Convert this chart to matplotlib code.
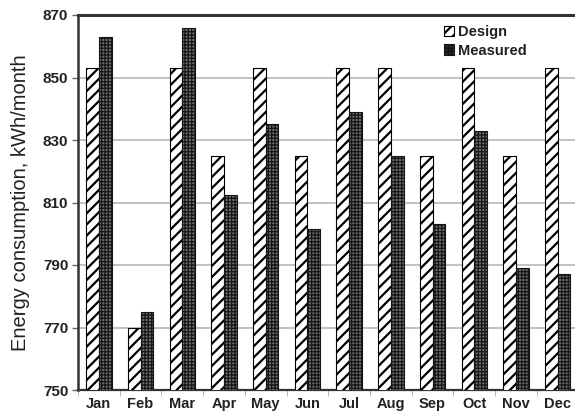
import matplotlib
matplotlib.use("Agg")
import matplotlib.pyplot as plt
import numpy as np

months = ["Jan", "Feb", "Mar", "Apr", "May", "Jun",
          "Jul", "Aug", "Sep", "Oct", "Nov", "Dec"]
design = [853, 770, 853, 825, 853, 825, 853, 853, 825, 853, 825, 853]
measured = [863, 775, 866, 812.5, 835, 801.5, 839, 825, 803, 833, 789, 787]
y_ticks = [750, 770, 790, 810, 830, 850, 870]

plt.rcParams["font.family"] = ["Liberation Sans", "DejaVu Sans"]
plt.rcParams["hatch.linewidth"] = 1.6

fig = plt.figure(figsize=(5.75, 4.13), dpi=100)
ax = fig.add_axes([78 / 575, 1 - 390 / 413, 500.5 / 575, 375 / 413])

x = np.arange(len(months))
w = 0.305
ax.bar(x - w / 2, design, w, color="white", edgecolor="black",
       hatch="///", linewidth=0.8, zorder=3, label="Design")
meas_bars = ax.bar(x + w / 2, measured, w, color="#6e6e6e", edgecolor="#151515",
                   hatch="+++++", linewidth=0.8, zorder=3, label="Measured")
for b in meas_bars:
    if hasattr(b, "set_hatch_linewidth"):
        b.set_hatch_linewidth(0.9)

ax.set_ylim(750, 870)
ax.set_xlim(-0.5, len(months) - 0.5)
ax.set_yticks(y_ticks)
ax.set_yticklabels([str(v) for v in y_ticks], fontsize=11, fontweight="bold",
                   color="#222222")
ax.set_xticks(x)
ax.set_xticklabels(months, fontsize=10.5, fontweight="bold", color="#222222")
ax.tick_params(axis="x", length=0, pad=5)
ax.set_xticks(np.arange(-0.5, len(months)), minor=True)
ax.tick_params(axis="x", which="minor", length=4, color="#aaaaaa", direction="out")
ax.tick_params(axis="y", length=4, width=1, color="#666666", pad=3)

ax.yaxis.grid(True, color="#b8b8b8", linewidth=1.2, zorder=0)
ax.set_axisbelow(True)

for side in ("left", "top", "bottom"):
    ax.spines[side].set_color("#333333")
ax.spines["left"].set_linewidth(1.8)
ax.spines["top"].set_linewidth(2.2)
ax.spines["bottom"].set_linewidth(1.6)
ax.spines["right"].set_visible(False)

ax.set_ylabel("Energy consumption, kWh/month", fontsize=14.5, color="#222222",
              labelpad=9)

leg = ax.legend(loc="upper left", bbox_to_anchor=(0.71, 1.0), frameon=False,
                prop={"weight": "bold", "size": 10.5}, handlelength=0.7,
                handleheight=0.7, handletextpad=0.3, labelspacing=0.3,
                borderaxespad=0.3)
for t in leg.get_texts():
    t.set_color("#222222")

fig.savefig("out.png", dpi=100)
